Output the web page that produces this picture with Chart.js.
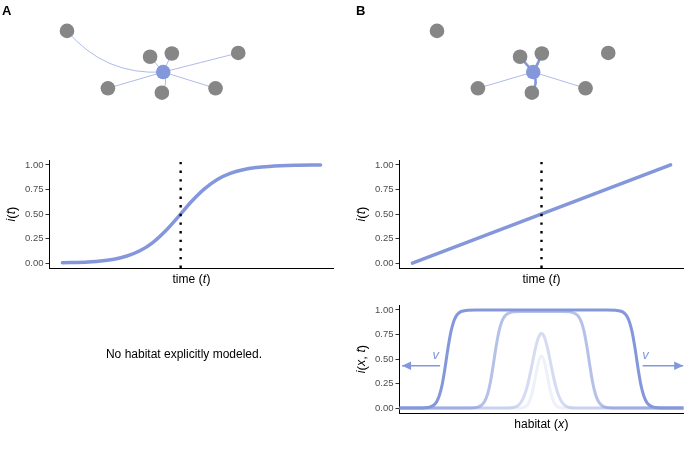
<!DOCTYPE html>
<html>
<head>
<meta charset="utf-8">
<script src="https://cdn.jsdelivr.net/npm/chart.js@4.4.1/dist/chart.umd.min.js"></script>
<style>
  body { margin: 0; background: #fff; }
  #fig { position: relative; width: 700px; height: 450px; overflow: hidden; background: #fff;
         font-family: "Liberation Sans", Arial, sans-serif; }
  canvas { position: absolute; }
  .tag { position: absolute; font-weight: bold; font-size: 13px; line-height: 15px; color: #000; }
  #note { position: absolute; left: 0; width: 368px; top: 347px; line-height: 14px;
          text-align: center; font-size: 12px; color: #000; }
</style>
</head>
<body>
<div id="fig">
  <canvas id="netA" width="350" height="125" style="left:0;top:0"></canvas>
  <canvas id="netB" width="350" height="125" style="left:370px;top:0"></canvas>
  <canvas id="timeA" width="350" height="160" style="left:0;top:140px"></canvas>
  <canvas id="timeB" width="350" height="160" style="left:350px;top:140px"></canvas>
  <canvas id="spaceB" width="350" height="160" style="left:350px;top:290px"></canvas>
  <div class="tag" style="left:2px;top:3px">A</div>
  <div class="tag" style="left:356px;top:3px">B</div>
  <div id="note">No habitat explicitly modeled.</div>
</div>
<script>
// network layout (node 0 is the focal patch)
const netX = [162.7, 62.3, 149, 171.7, 241, 105, 161.3, 217.3];
const netY = [73.3, 26.7, 56, 52.3, 51.7, 91.7, 96.7, 91.7];
// edges: [target node, curvature, thick]
const edgesA = [[1, -0.25, 0], [2, 0, 0], [3, 0, 0], [4, 0, 0], [5, 0, 0], [6, -0.3, 0], [7, 0, 0]];
const edgesB = [[2, 0, 1], [3, 0.05, 1], [6, -0.3, 1], [5, 0, 0], [7, 0, 0]];

// panel A: logistic growth over time
const sigT = [0, 10, 20, 25, 30, 35, 40, 45, 50, 55, 60, 65, 70, 75, 80, 90, 100];
const sigI = [0.004, 0.012, 0.04, 0.072, 0.125, 0.209, 0.329, 0.475, 0.627, 0.756, 0.852, 0.914, 0.951, 0.973, 0.985, 0.996, 0.999];
const sigMid = 45.8;

// panel B: linear growth over time
const linT = [0, 100];
const linI = [0, 1];
const linMid = 50;

const yTicks = [0, 0.25, 0.5, 0.75, 1];

// panel B: travelling waves over habitat
const wave1X = [-50, -42, -40, -39, -38, -37, -36, -35, -34, -33, -32, -31, -30, -29, -28, -26, -23,
                23, 26, 28, 29, 30, 31, 32, 33, 34, 35, 36, 37, 38, 39, 40, 42, 50];
const wave1I = [0, 0.001, 0.006, 0.014, 0.029, 0.061, 0.125, 0.237, 0.404, 0.596, 0.763, 0.875, 0.939, 0.971, 0.986, 0.997, 1,
                1, 0.997, 0.986, 0.971, 0.939, 0.875, 0.763, 0.596, 0.404, 0.237, 0.125, 0.061, 0.029, 0.014, 0.006, 0.001, 0];
const wave2X = [-50, -26, -24, -23, -22, -21, -20, -19, -18, -17, -16, -15, -14, -13, -12, -10, -7,
                7, 10, 12, 13, 14, 15, 16, 17, 18, 19, 20, 21, 22, 23, 24, 26, 50];
const wave2I = [0, 0, 0.003, 0.007, 0.016, 0.033, 0.07, 0.141, 0.263, 0.436, 0.624, 0.779, 0.879, 0.933, 0.96, 0.98, 0.985,
                0.985, 0.98, 0.96, 0.933, 0.879, 0.779, 0.624, 0.436, 0.263, 0.141, 0.07, 0.033, 0.016, 0.007, 0.003, 0, 0];
const wave3X = [-50, -14, -12, -10, -9, -8, -7, -6, -5, -4, -3, -2, -1, 0, 1, 2, 3, 4, 5, 6, 7, 8, 9, 10, 12, 14, 50];
const wave3I = [0, 0, 0.001, 0.006, 0.015, 0.033, 0.069, 0.131, 0.224, 0.348, 0.49, 0.625, 0.724, 0.76,
                0.724, 0.625, 0.49, 0.348, 0.224, 0.131, 0.069, 0.033, 0.015, 0.006, 0.001, 0, 0];
const wave4X = [-50, -8, -7, -6, -5, -4, -3, -2, -1, 0, 1, 2, 3, 4, 5, 6, 7, 8, 50];
const wave4I = [0, 0, 0.002, 0.009, 0.031, 0.086, 0.191, 0.337, 0.473, 0.53, 0.473, 0.337, 0.191, 0.086, 0.031, 0.009, 0.002, 0, 0];

const arrowLeftX = [-35.7, -49.1];
const arrowRightX = [35.6, 49.9];
const arrowY = 0.432;
const vLabelX = [-37.2, 36.6];
const vLabelY = 0.54;

const SANS = '"Liberation Sans", Arial, sans-serif';
const blue = 'rgb(132,151,219)';
const blueA = a => `rgba(132,151,219,${a})`;

const pts = (xs, ys) => xs.map((x, i) => ({ x, y: ys[i] }));

function drawRich(ctx, segs, cx, cy, rot) {
  ctx.save();
  ctx.translate(cx, cy);
  if (rot) ctx.rotate(rot);
  let w = 0;
  segs.forEach(s => { ctx.font = s.f; s.w = ctx.measureText(s.t).width; w += s.w; });
  let x = -w / 2;
  ctx.textBaseline = 'middle';
  ctx.textAlign = 'left';
  ctx.fillStyle = '#000';
  segs.forEach(s => { ctx.font = s.f; ctx.fillText(s.t, x, 0); x += s.w; });
  ctx.restore();
}

const up = t => ({ t, f: `12px ${SANS}` });
const par = t => ({ t, f: `13px ${SANS}` });
const it = t => ({ t, f: `italic 12.5px ${SANS}` });

function titles(xSegs, ySegs) {
  return {
    id: 'titles',
    afterDraw(chart) {
      const a = chart.chartArea;
      drawRich(chart.ctx, xSegs, (a.left + a.right) / 2, a.bottom + 11.5);
      drawRich(chart.ctx, ySegs, 12, (a.top + a.bottom) / 2, -Math.PI / 2);
    }
  };
}

const arrowHeads = {
  id: 'arrowHeads',
  afterDatasetsDraw(chart) {
    const ctx = chart.ctx;
    chart.data.datasets.forEach((ds, i) => {
      if (!ds.arrow) return;
      const p = chart.getDatasetMeta(i).data;
      const a = p[p.length - 2], b = p[p.length - 1];
      ctx.save();
      ctx.translate(b.x, b.y);
      ctx.rotate(Math.atan2(b.y - a.y, b.x - a.x));
      ctx.beginPath();
      ctx.moveTo(0, 0);
      ctx.lineTo(-9, -4.2);
      ctx.lineTo(-9, 4.2);
      ctx.closePath();
      ctx.fillStyle = ds.borderColor;
      ctx.fill();
      ctx.restore();
    });
  }
};

const vLabels = {
  id: 'vLabels',
  afterDatasetsDraw(chart) {
    const { ctx, scales: { x, y } } = chart;
    ctx.save();
    ctx.font = `italic 13px ${SANS}`;
    ctx.fillStyle = blue;
    ctx.textAlign = 'center';
    ctx.textBaseline = 'middle';
    vLabelX.forEach(v => ctx.fillText('v', x.getPixelForValue(v), y.getPixelForValue(vLabelY)));
    ctx.restore();
  }
};

function axesChart(id, datasets, xMin, xMax, padTop, xHeight, plugins) {
  return new Chart(document.getElementById(id), {
    type: 'line',
    data: { datasets },
    options: {
      responsive: false,
      animation: false,
      devicePixelRatio: 1,
      layout: { padding: { top: padTop, right: 16.5, left: 0, bottom: 0 } },
      plugins: { legend: { display: false }, tooltip: { enabled: false } },
      elements: { point: { radius: 0, hoverRadius: 0 } },
      scales: {
        x: {
          type: 'linear', min: xMin, max: xMax,
          ticks: { display: false },
          grid: { display: false },
          border: { display: true, color: '#000', width: 1 },
          afterFit(s) { s.height = xHeight; }
        },
        y: {
          type: 'linear', min: -0.05, max: 1.05,
          afterBuildTicks(s) { s.ticks = yTicks.map(v => ({ value: v })); },
          ticks: { callback: v => v.toFixed(2), color: '#4d4d4d', font: { family: SANS, size: 9.5 }, padding: 2 },
          grid: { display: true, drawOnChartArea: false, tickLength: 4, tickColor: '#333', color: '#333' },
          border: { display: true, color: '#000', width: 1 },
          afterFit(s) { s.width = 49.5; }
        }
      }
    },
    plugins
  });
}

function dotted(mid) {
  return {
    data: [{ x: mid, y: -0.05 }, { x: mid, y: 1.05 }],
    borderColor: '#000', borderWidth: 2.4, borderDash: [2.4, 6.24], borderCapStyle: 'butt', tension: 0
  };
}

function curve(xs, ys, color, w) {
  return { data: pts(xs, ys), borderColor: color, borderWidth: w, cubicInterpolationMode: 'monotone', borderCapStyle: 'round' };
}

const timeTitle = [up('time '), par('('), it('t'), par(')')];
const itTitle = [it('i'), par('('), it('t'), par(')')];

axesChart('timeA', [dotted(sigMid), curve(sigT, sigI, blue, 3.5)], -5, 105, 20, 32, [titles(timeTitle, itTitle)]);
axesChart('timeB', [dotted(linMid), curve(linT, linI, blue, 3.5)], -5, 105, 20, 32, [titles(timeTitle, itTitle)]);

axesChart('spaceB', [
  { data: pts(arrowLeftX, [arrowY, arrowY]), borderColor: blue, borderWidth: 1.6, tension: 0, arrow: true },
  { data: pts(arrowRightX, [arrowY, arrowY]), borderColor: blue, borderWidth: 1.6, tension: 0, arrow: true },
  curve(wave1X, wave1I, blue, 3),
  curve(wave2X, wave2I, blueA(0.6), 3),
  curve(wave3X, wave3I, blueA(0.35), 3),
  curve(wave4X, wave4I, blueA(0.14), 3)
], -50, 50, 15, 37, [arrowHeads, vLabels,
  titles([up('habitat '), par('('), it('x'), par(')')],
         [it('i'), par('('), it('x'), par(', '), it('t'), par(')')])]);

function edgePlugin(edges) {
  return {
    id: 'edges',
    beforeDatasetsDraw(chart) {
      const { ctx, scales: { x, y } } = chart;
      const px = i => [x.getPixelForValue(netX[i]), y.getPixelForValue(netY[i])];
      ctx.save();
      edges.forEach(([to, c, thick]) => {
        const [x0, y0] = px(0), [x1, y1] = px(to);
        const dx = x1 - x0, dy = y1 - y0;
        ctx.beginPath();
        ctx.moveTo(x0, y0);
        ctx.quadraticCurveTo((x0 + x1) / 2 - c * dy, (y0 + y1) / 2 + c * dx, x1, y1);
        ctx.lineWidth = thick ? 2.6 : 1;
        ctx.strokeStyle = thick ? blue : blueA(0.65);
        ctx.stroke();
      });
      ctx.restore();
    }
  };
}

function network(id, edges) {
  return new Chart(document.getElementById(id), {
    type: 'scatter',
    data: {
      datasets: [{
        data: pts(netX, netY),
        pointRadius: 7.3, pointHoverRadius: 7.3, pointBorderWidth: 0,
        pointBackgroundColor: netX.map((_, i) => i === 0 ? blue : '#868686')
      }]
    },
    options: {
      responsive: false, animation: false, devicePixelRatio: 1,
      layout: { padding: 0 },
      plugins: { legend: { display: false }, tooltip: { enabled: false } },
      scales: {
        x: { display: false, min: 0, max: 350 },
        y: { display: false, min: 0, max: 125, reverse: true }
      }
    },
    plugins: [edgePlugin(edges)]
  });
}

network('netA', edgesA);
network('netB', edgesB);
</script>
</body>
</html>
